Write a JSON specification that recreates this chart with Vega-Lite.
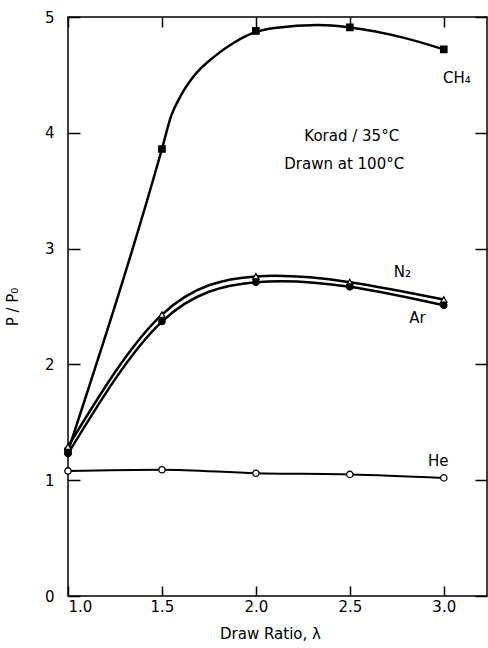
{
  "$schema": "https://vega.github.io/schema/vega-lite/v6.json",
  "autosize": "none",
  "width": 419,
  "height": 579,
  "padding": {"left": 68, "top": 17, "right": 1, "bottom": 52},
  "background": "white",
  "config": {
    "view": {"stroke": "black", "strokeWidth": 1.5},
    "font": "DejaVu Sans",
    "axis": {
      "domain": false,
      "ticks": false,
      "grid": true,
      "gridColor": "black",
      "gridWidth": 1.5,
      "gridOpacity": 1,
      "labelColor": "black",
      "titleColor": "black",
      "labelFont": "DejaVu Sans",
      "titleFont": "DejaVu Sans",
      "labelFontSize": 15,
      "titleFontSize": 15,
      "titleFontWeight": "normal"
    },
    "axisX": {"gridDash": [10, 559]},
    "axisY": {"gridDash": [12, 395]}
  },
  "datasets": {
    "pts": [
      {"gas": "CH4", "x": 1.0, "y": 1.25},
      {"gas": "CH4", "x": 1.5, "y": 3.86},
      {"gas": "CH4", "x": 2.0, "y": 4.88},
      {"gas": "CH4", "x": 2.5, "y": 4.91},
      {"gas": "CH4", "x": 3.0, "y": 4.72},
      {"gas": "N2", "x": 1.0, "y": 1.29},
      {"gas": "N2", "x": 1.5, "y": 2.43},
      {"gas": "N2", "x": 2.0, "y": 2.76},
      {"gas": "N2", "x": 2.5, "y": 2.71},
      {"gas": "N2", "x": 3.0, "y": 2.56},
      {"gas": "Ar", "x": 1.0, "y": 1.23},
      {"gas": "Ar", "x": 1.5, "y": 2.37},
      {"gas": "Ar", "x": 2.0, "y": 2.71},
      {"gas": "Ar", "x": 2.5, "y": 2.67},
      {"gas": "Ar", "x": 3.0, "y": 2.51},
      {"gas": "He", "x": 1.0, "y": 1.08},
      {"gas": "He", "x": 1.5, "y": 1.09},
      {"gas": "He", "x": 2.0, "y": 1.06},
      {"gas": "He", "x": 2.5, "y": 1.05},
      {"gas": "He", "x": 3.0, "y": 1.02}
    ],
    "ch4curve": [
      {"x": 1.0, "y": 1.25},
      {"x": 1.5, "y": 3.86},
      {"x": 1.55, "y": 4.15},
      {"x": 1.6, "y": 4.32},
      {"x": 1.67, "y": 4.49},
      {"x": 1.78, "y": 4.66},
      {"x": 1.885, "y": 4.78},
      {"x": 2.0, "y": 4.87},
      {"x": 2.1, "y": 4.905},
      {"x": 2.33, "y": 4.93},
      {"x": 2.5, "y": 4.91},
      {"x": 2.79, "y": 4.82},
      {"x": 3.0, "y": 4.72}
    ],
    "labels": [
      {"text": "CH₄", "x": 3.07, "y": 4.47},
      {"text": "N₂", "x": 2.78, "y": 2.8},
      {"text": "Ar", "x": 2.86, "y": 2.4},
      {"text": "He", "x": 2.97, "y": 1.17},
      {"text": "Korad / 35°C", "x": 2.51, "y": 3.97},
      {"text": "Drawn at 100°C", "x": 2.47, "y": 3.73}
    ]
  },
  "layer": [
    {
      "data": {"name": "ch4curve"},
      "mark": {"type": "line", "interpolate": "monotone", "color": "black", "strokeWidth": 2.5},
      "encoding": {
        "x": {
          "field": "x", "type": "quantitative",
          "scale": {"domain": [1, 3.23], "nice": false, "zero": false},
          "axis": {
            "orient": "bottom", "values": [1, 1.5, 2, 2.5, 3], "format": ".1f",
            "labelPadding": 3, "title": "Draw Ratio, λ", "titlePadding": 12, "titleX": 202
          }
        },
        "y": {
          "field": "y", "type": "quantitative",
          "scale": {"domain": [0, 5], "nice": false},
          "axis": {
            "orient": "left", "values": [0, 1, 2, 3, 4, 5], "format": "d",
            "labelPadding": 14, "title": "P / P₀", "titlePadding": 24
          }
        }
      }
    },
    {
      "data": {"name": "pts"},
      "transform": [{"filter": "datum.gas === 'N2' || datum.gas === 'Ar'"}],
      "mark": {"type": "line", "interpolate": "natural", "color": "black", "strokeWidth": 2.5},
      "encoding": {
        "x": {"field": "x", "type": "quantitative"},
        "y": {"field": "y", "type": "quantitative"},
        "detail": {"field": "gas"}
      }
    },
    {
      "data": {"name": "pts"},
      "transform": [{"filter": "datum.gas === 'He'"}],
      "mark": {"type": "line", "interpolate": "monotone", "color": "black", "strokeWidth": 2},
      "encoding": {
        "x": {"field": "x", "type": "quantitative"},
        "y": {"field": "y", "type": "quantitative"}
      }
    },
    {
      "data": {"name": "pts"},
      "mark": {"type": "point", "filled": true, "stroke": "black", "strokeWidth": 1.3, "size": 40, "opacity": 1},
      "encoding": {
        "x": {"field": "x", "type": "quantitative"},
        "y": {"field": "y", "type": "quantitative"},
        "shape": {"field": "gas", "type": "nominal", "scale": {"domain": ["CH4", "N2", "Ar", "He"], "range": ["square", "triangle-up", "circle", "circle"]}, "legend": null},
        "fill": {"field": "gas", "type": "nominal", "scale": {"domain": ["CH4", "N2", "Ar", "He"], "range": ["black", "white", "black", "white"]}, "legend": null}
      }
    },
    {
      "data": {"name": "labels"},
      "mark": {"type": "text", "fontSize": 15, "color": "black", "align": "center", "baseline": "middle", "font": "DejaVu Sans"},
      "encoding": {
        "x": {"field": "x", "type": "quantitative"},
        "y": {"field": "y", "type": "quantitative"},
        "text": {"field": "text"}
      }
    }
  ]
}
